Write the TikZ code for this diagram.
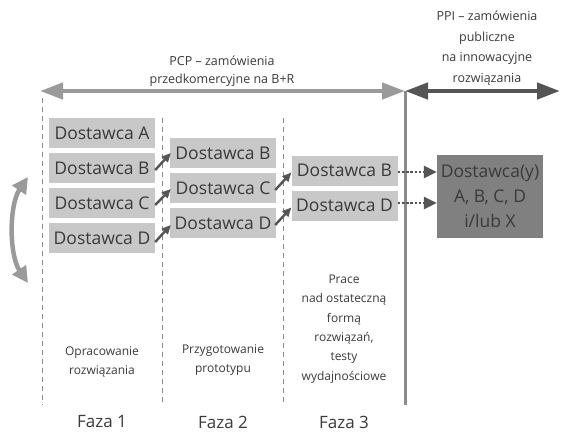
\documentclass[tikz,border=0pt]{standalone}
\usepackage{fontspec}
\setmainfont{Open Sans}
\usetikzlibrary{arrows.meta,calc}
\definecolor{boxlight}{HTML}{C8C8C8}
\definecolor{boxdark}{HTML}{808080}
\definecolor{arrlight}{HTML}{9A9A9A}
\definecolor{arrdark}{HTML}{555555}
\definecolor{txt}{HTML}{3A3A3A}
\definecolor{dashc}{HTML}{8A8A8A}
\begin{document}
\begin{tikzpicture}[x=1pt,y=-1pt,
  every node/.style={text=txt,font=\fontsize{12}{14}\selectfont},
  supplier/.style={fill=boxlight,minimum width=106pt,minimum height=30pt,inner sep=0pt,
    font=\fontsize{17.5}{19}\selectfont},
  final/.style={fill=boxdark,minimum width=106pt,minimum height=83pt,inner sep=0pt,
    align=center,font=\fontsize{17.5}{25}\selectfont},
  phaseline/.style={dashc,line width=0.8pt,dash pattern=on 5pt off 4pt},
  small arrow/.style={arrdark,line width=2.4pt,-{Triangle[length=9pt,width=8pt]}},
  dotted arrow/.style={arrdark,line width=2.8pt,dash pattern=on 2.6pt off 1.6pt,
    -{Triangle[length=13pt,width=12pt]}},
  desc/.style={align=center,font=\fontsize{12}{19.3}\selectfont},
  faza/.style={font=\fontsize{17}{20}\selectfont}
]
\useasboundingbox (0,0) rectangle (561,437);

% phase separators
\coordinate (d1t) at (42,98);  \coordinate (d1b) at (42,405);
\coordinate (d2t) at (162,118); \coordinate (d2b) at (162,405);
\coordinate (d3t) at (283,118); \coordinate (d3b) at (283,405);
\draw[phaseline] (d1t) -- (d1b);
\draw[phaseline] (d2t) -- (d2b);
\draw[phaseline] (d3t) -- (d3b);

% solid separator
\coordinate (mid) at (405,91);
\coordinate (midb) at (405,405);
\draw[arrlight!90!black,line width=3pt] (mid) -- (midb);

% top arrows
\coordinate (pcpL) at (40,91);
\coordinate (ppiR) at (560,91);
\draw[arrlight,line width=4.5pt,{Triangle[length=23pt,width=16pt]}-{Triangle[length=23pt,width=16pt]}] (pcpL) -- (mid);
\draw[arrdark,line width=4.5pt,{Triangle[length=23pt,width=16pt]}-{Triangle[length=23pt,width=16pt]}] (mid) -- (ppiR);

\node[align=center,font=\fontsize{12.5}{18}\selectfont] (pcp) at (222,71) {PCP – zamówienia\\przedkomercyjne na B+R};
\node[align=center,font=\fontsize{12.5}{20.5}\selectfont] (ppi) at (487,48) {PPI – zamówienia\\publiczne\\na innowacyjne\\rozwiązania};

% phase 1
\node[supplier] (a1) at (102,133) {Dostawca A};
\node[supplier] (b1) at (102,168) {Dostawca B};
\node[supplier] (c1) at (102,203) {Dostawca C};
\node[supplier] (e1) at (102,238) {Dostawca D};
% phase 2
\node[supplier] (b2) at (223,153) {Dostawca B};
\node[supplier] (c2) at (223,188) {Dostawca C};
\node[supplier] (e2) at (223,223) {Dostawca D};
% phase 3
\node[supplier] (b3) at (344.5,170.5) {Dostawca B};
\node[supplier] (e3) at (344.5,205.5) {Dostawca D};
% final
\node[final] (fin) at (490,196.5) {Dostawca(y)\\A, B, C, D\\i/lub X};

% transitions
\draw[small arrow] ($(b1.east)+(0,2)$) -- ($(b2.west)+(1,0)$);
\draw[small arrow] ($(c1.east)+(0,2)$) -- ($(c2.west)+(1,1)$);
\draw[small arrow] ($(e1.east)+(0,4)$) -- ($(e2.west)+(1,2)$);
\draw[small arrow] ($(c2.east)+(-1,2)$) -- ($(b3.west)+(0,2)$);
\draw[small arrow] ($(e2.east)+(-1,2)$) -- ($(e3.west)+(0,2)$);

\draw[dotted arrow] ($(b3.east)+(0,1.5)$) -- ($(fin.west)+(0,-24.5)$);
\draw[dotted arrow] ($(e3.east)+(0,-2.5)$) -- ($(fin.west)+(0,6.5)$);

% side curved arrow
\coordinate (cvt) at (28,177);
\coordinate (cvb) at (28,283);
\draw[arrlight,line width=4.5pt,{Triangle[length=16pt,width=16pt]}-{Triangle[length=16pt,width=16pt]}]
  (cvt) .. controls (9,205) and (9,255) .. (cvb);

% descriptions
\node[desc] (ds1) at (102,362) {Opracowanie\\rozwiązania};
\node[desc] (ds2) at (223,360) {Przygotowanie\\prototypu};
\node[desc] (ds3) at (344,329) {Prace\\nad ostateczną\\formą\\rozwiązań,\\testy\\wydajnościowe};

\node[faza] (f1) at (102,422) {Faza 1};
\node[faza] (f2) at (223,422) {Faza 2};
\node[faza] (f3) at (344,422) {Faza 3};
\end{tikzpicture}
\end{document}
